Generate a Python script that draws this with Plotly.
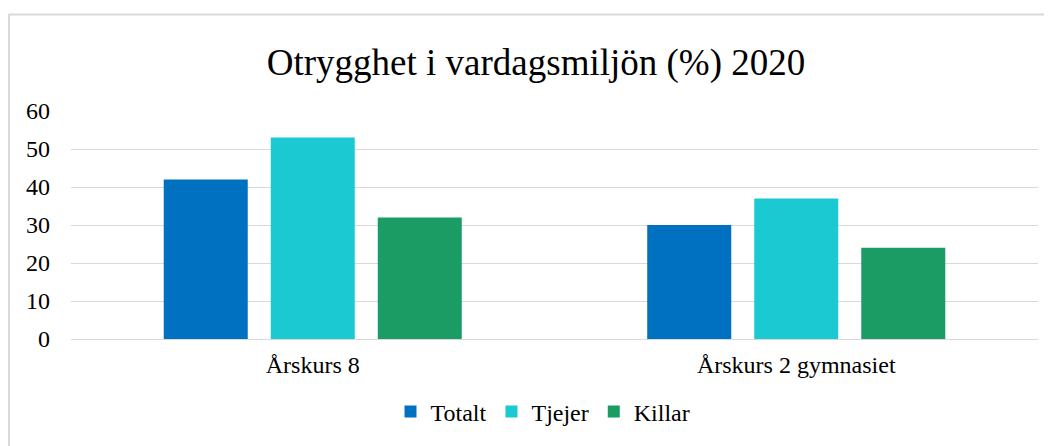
import plotly.graph_objects as go

categories = ["Årskurs 8", "Årskurs 2 gymnasiet"]
totalt = [42, 30]
tjejer = [53, 37]
killar = [32, 24]
y_ticks = [0, 10, 20, 30, 40, 50, 60]

FONT = "Liberation Serif, Times New Roman, serif"
OFF = 8  # page body margin
W, H = 1044, 438
L, R, T, B = 63, 14, 103, 107
pw, ph = W - L - R, H - T - B

fig = go.Figure()
fig.add_bar(name="Totalt", x=categories, y=totalt, marker=dict(color="#0070C0", line=dict(width=0)))
fig.add_bar(name="Tjejer", x=categories, y=tjejer, marker=dict(color="#1AC9D2", line=dict(width=0)))
fig.add_bar(name="Killar", x=categories, y=killar, marker=dict(color="#1B9C64", line=dict(width=0)))

def px_x(x):
    return (x - OFF - L) / pw

def px_y(y):
    return (H - B - (y - OFF)) / ph

fig.update_layout(
    width=W, height=H,
    margin=dict(l=L, r=R, t=T, b=B),
    paper_bgcolor="white", plot_bgcolor="white",
    barmode="group", bargap=0.336, bargroupgap=0.215,
    font=dict(family=FONT, size=24, color="#000000"),
    title=dict(text="Otrygghet i vardagsmiljön (%) 2020", x=(536 - OFF) / W, xanchor="center",
               y=1 - (62 - OFF) / H, yanchor="middle", font=dict(family=FONT, size=37, color="#000000")),
    showlegend=True,
    legend=dict(orientation="h", x=px_x(543), xanchor="center", y=px_y(412), yanchor="middle",
                font=dict(family=FONT, size=24), itemwidth=30, traceorder="normal"),
    xaxis=dict(showgrid=False, showline=False, ticks="", tickfont=dict(family=FONT, size=24),
               ticklabelstandoff=9),
    yaxis=dict(range=[0, 60], tickvals=y_ticks, showgrid=True, gridcolor="#D9D9D9", gridwidth=1,
               zeroline=True, zerolinecolor="#D9D9D9", zerolinewidth=1, showline=False, ticks="",
               tickfont=dict(family=FONT, size=24), ticklabelstandoff=20),
)

# outer chart border (light grey frame)
fig.add_shape(type="line", xref="paper", yref="paper", x0=px_x(8.5), x1=px_x(1060), y0=px_y(14.5), y1=px_y(14.5),
              line=dict(color="#D9D9D9", width=2))
fig.add_shape(type="line", xref="paper", yref="paper", x0=px_x(9), x1=px_x(9), y0=px_y(14.5), y1=px_y(460),
              line=dict(color="#D9D9D9", width=2))

fig.write_html("out.html")
